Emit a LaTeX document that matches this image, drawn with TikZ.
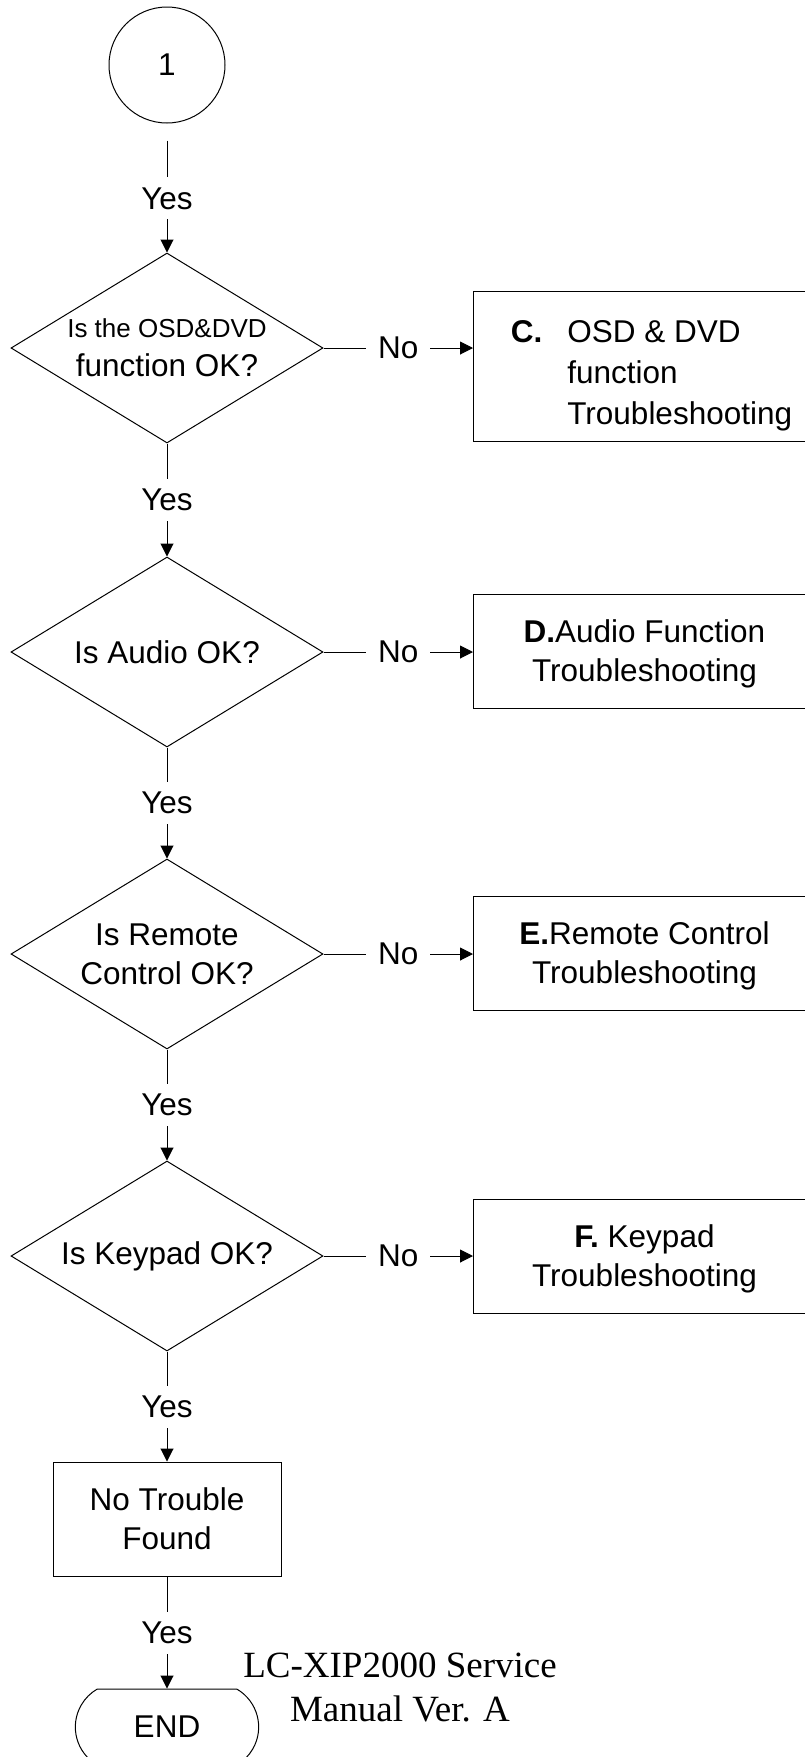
\documentclass[tikz,border=0pt]{standalone}
\usepackage{fontspec}
\setmainfont{Liberation Sans}
\newfontfamily\manualfont{Liberation Serif}
\usetikzlibrary{shapes.geometric, shapes.misc, arrows.meta}

\tikzset{
	decision/.style = {draw, diamond, aspect = 1.64, inner sep = 0pt, minimum width = 312pt, minimum height = 190pt, align = center},
	trouble/.style = {draw, rectangle, anchor = west, minimum width = 342pt, minimum height = 114pt, align = center, text depth = 0pt},
	flow/.style = {-{Triangle[length = 13pt, width = 13pt]}},
	answer/.style = {fill = white, inner xsep = 12pt, inner ysep = 10pt},
}

\begin{document}
\begin{tikzpicture}[x = 1pt, y = -1pt, line width = 1pt, font = \fontsize{31.5}{39}\selectfont]
			\def\colx{167};
			\def\boxx{473};
			
			\useasboundingbox (0,0) rectangle (805,1757);
			\clip (0,0) rectangle (805,1757);
			
			\node [draw, circle, minimum size = 116pt, inner sep = 0pt] (start) at (\colx,65) {1};
			
			\node [decision] (osd) at (\colx,348) {{\fontsize{26}{32}\selectfont Is the OSD\&DVD}\\function OK?};
			\node [decision] (audio) at (\colx,652) {Is Audio OK?};
			\node [decision] (remote) at (\colx,954) {Is Remote\\Control OK?};
			\node [decision] (keypad) at (\colx,1256) {Is Keypad OK?};
			
			\node [draw, rectangle, anchor = west, minimum width = 356pt, minimum height = 150pt] (fixosd) at (\boxx,366) {%
				\def\arraystretch{1.05}%
				\begin{tabular}{@{}l@{\hspace{25pt}}l@{}}
					\rule{0pt}{47pt}\textbf{C.} & OSD \& DVD\\
					& function\\
					& Troubleshooting
				\end{tabular}};
			\node [trouble] (fixaudio) at (\boxx,651) {\textbf{D.}Audio Function\\Troubleshooting};
			\node [trouble] (fixremote) at (\boxx,953) {\textbf{E.}Remote Control\\Troubleshooting};
			\node [trouble] (fixkeypad) at (\boxx,1256) {\textbf{F.} Keypad\\Troubleshooting};
			
			\node [draw, rectangle, minimum width = 228pt, minimum height = 114pt, align = center] (ntf) at (\colx,1519) {No Trouble\\Found};
			\node [draw, rounded rectangle, rounded rectangle arc length = 120, minimum width = 190pt, minimum height = 76pt] (finish) at (\colx,1727) {END};
			
			\node [align = center, font = \manualfont\fontsize{37}{44}\selectfont] (manual) at (400,1687) {LC-XIP2000 Service\\Manual Ver. A};
			
			\begin{scope}[flow]
				\draw [shorten <= 17pt] (start.south) -- node [answer, pos = 0.58] {Yes} (osd.north);
				\draw (osd.south) -- node [answer] {Yes} (audio.north);
				\draw (audio.south) -- node [answer] {Yes} (remote.north);
				\draw (remote.south) -- node [answer] {Yes} (keypad.north);
				\draw (keypad.south) -- node [answer] {Yes} (ntf.north);
				\draw (ntf.south) -- node [answer] {Yes} (finish.north);
				
				\draw (osd.east) -- node [answer] {No} (osd.east -| fixosd.west);
				\draw (audio.east) -- node [answer] {No} (audio.east -| fixaudio.west);
				\draw (remote.east) -- node [answer] {No} (remote.east -| fixremote.west);
				\draw (keypad.east) -- node [answer] {No} (keypad.east -| fixkeypad.west);
			\end{scope}
		\end{tikzpicture}
\end{document}
